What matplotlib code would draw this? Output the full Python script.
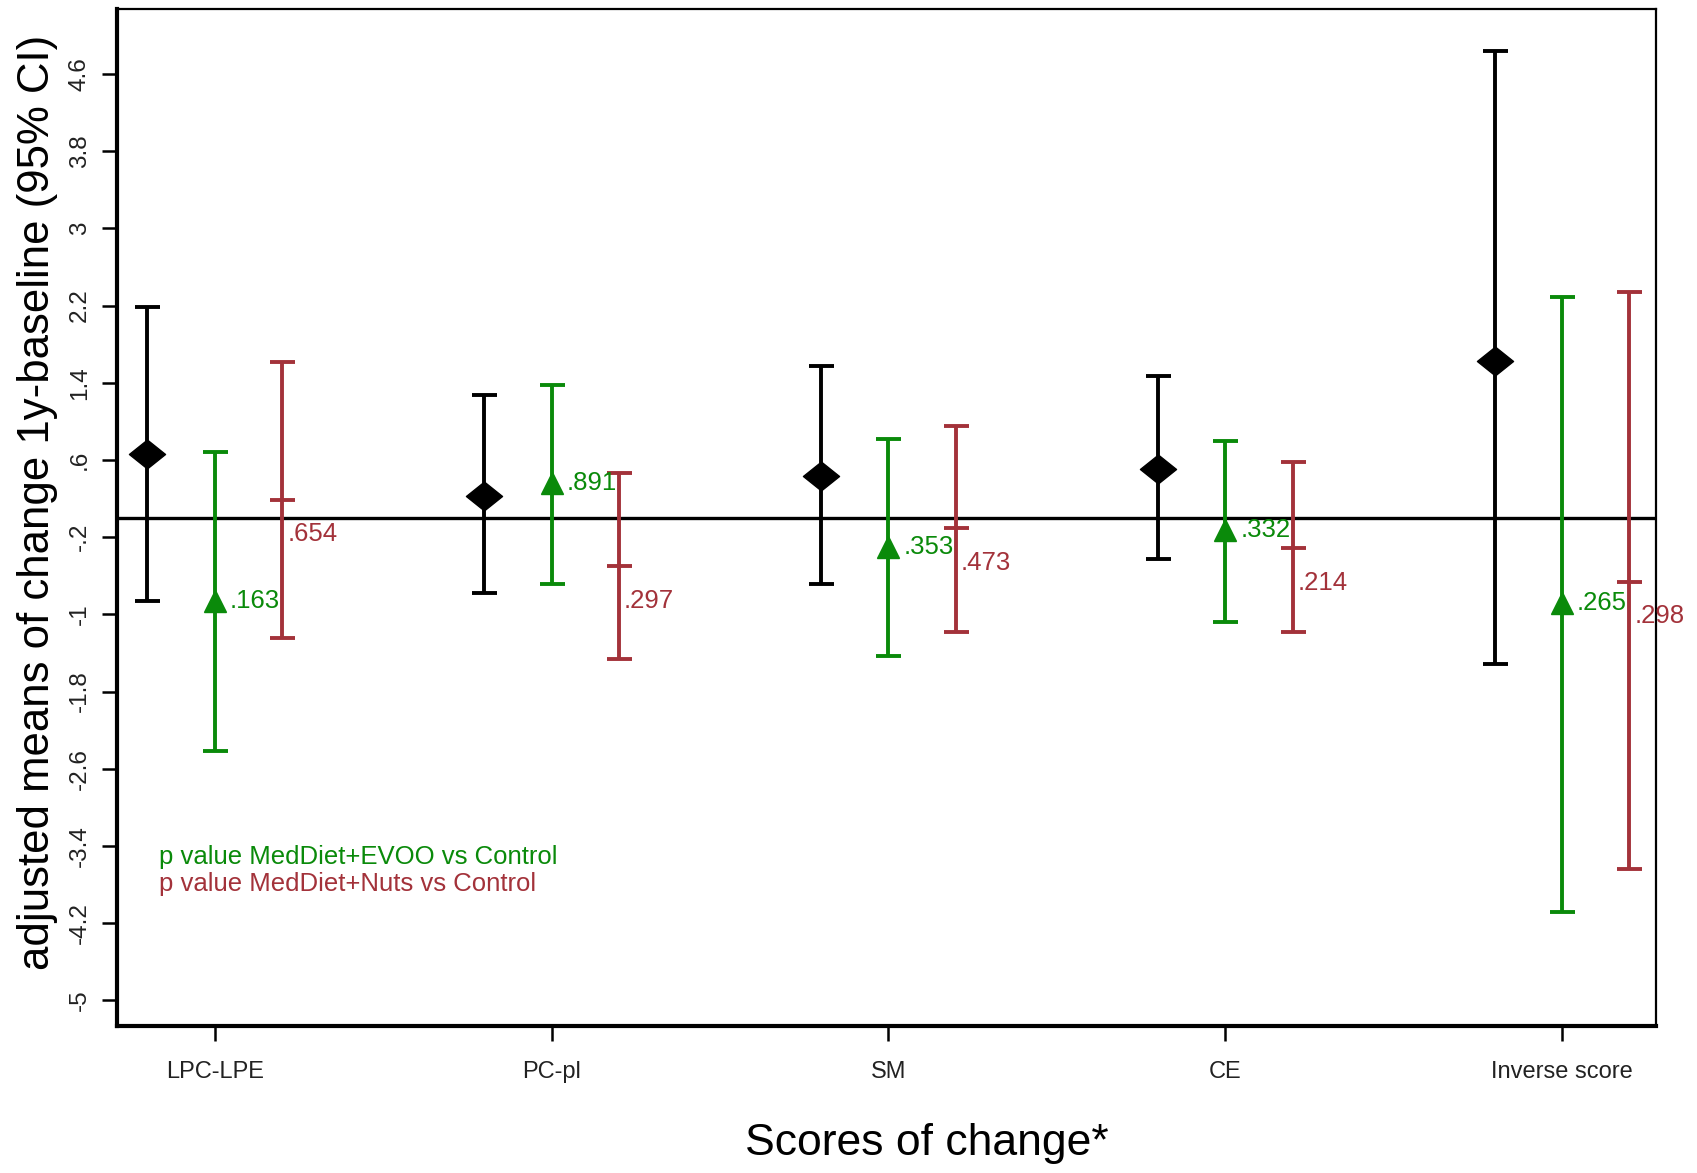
import matplotlib
matplotlib.use("Agg")
import matplotlib.pyplot as plt
import numpy as np
from matplotlib.path import Path

plt.rcParams['font.family'] = ['Liberation Sans', 'DejaVu Sans']

# scores and group estimates (adjusted mean change, 95% CI)
scores = ['LPC-LPE', 'PC-pl', 'SM', 'CE', 'Inverse score']

ctrl_mean = [0.66, 0.23, 0.43, 0.51, 1.63]
ctrl_lo = [-0.86, -0.78, -0.69, -0.43, -1.51]
ctrl_hi = [2.19, 1.27, 1.57, 1.47, 4.84]

evoo_mean = [-0.86, 0.36, -0.30, -0.13, -0.88]
evoo_lo = [-2.42, -0.69, -1.43, -1.08, -4.08]
evoo_hi = [0.68, 1.38, 0.82, 0.80, 2.29]

nuts_mean = [0.19, -0.50, -0.11, -0.31, -0.66]
nuts_lo = [-1.24, -1.46, -1.18, -1.18, -3.64]
nuts_hi = [1.62, 0.47, 0.95, 0.58, 2.34]

p_evoo = ['.163', '.891', '.353', '.332', '.265']
p_nuts = ['.654', '.297', '.473', '.214', '.298']

yticks = [4.6, 3.8, 3, 2.2, 1.4, 0.6, -0.2, -1, -1.8, -2.6, -3.4, -4.2, -5]
ytick_labels = ['4.6', '3.8', '3', '2.2', '1.4', '.6', '-.2', '-1', '-1.8', '-2.6', '-3.4', '-4.2', '-5']

green = '#0a8a0a'
red = '#a3323a'

fig = plt.figure(figsize=(16.97, 11.73), dpi=100)
ax = fig.add_axes([0.069, 0.125, 0.907, 0.867])

x = np.arange(1, len(scores) + 1)

# wide diamond marker
diamond = Path([(-1, 0), (0, 0.8), (1, 0), (0, -0.8), (-1, 0)],
               [Path.MOVETO, Path.LINETO, Path.LINETO, Path.LINETO, Path.CLOSEPOLY])

def err(m, lo, hi):
    m, lo, hi = np.array(m), np.array(lo), np.array(hi)
    return [m - lo, hi - m]

ax.axhline(0, color='black', lw=2.4, zorder=1)

ax.errorbar(x - 0.2, ctrl_mean, yerr=err(ctrl_mean, ctrl_lo, ctrl_hi), fmt='none',
            ecolor='black', elinewidth=2.8, capsize=9, capthick=2.8, zorder=2)
ax.plot(x - 0.2, ctrl_mean, linestyle='none', marker=diamond, markersize=26,
        color='black', zorder=3)

ax.errorbar(x, evoo_mean, yerr=err(evoo_mean, evoo_lo, evoo_hi), fmt='none',
            ecolor=green, elinewidth=2.8, capsize=9, capthick=2.8, zorder=2)
ax.plot(x, evoo_mean, linestyle='none', marker='^', markersize=16,
        color=green, zorder=3)

ax.errorbar(x + 0.2, nuts_mean, yerr=err(nuts_mean, nuts_lo, nuts_hi), fmt='none',
            ecolor=red, elinewidth=2.8, capsize=9, capthick=2.8, zorder=2)
ax.plot(x + 0.2, nuts_mean, linestyle='none', marker='_', markersize=18,
        markeredgewidth=2.8, color=red, zorder=3)

for i in range(len(scores)):
    ax.text(x[i] + 0.045, evoo_mean[i], p_evoo[i], color=green, fontsize=18.5,
            ha='left', va='center', zorder=4)
    ax.text(x[i] + 0.215, nuts_mean[i] - 0.36, p_nuts[i], color=red, fontsize=18.5,
            ha='left', va='center', zorder=4)

ax.text(0.835, -3.51, 'p value MedDiet+EVOO vs Control', color=green, fontsize=18.5,
        ha='left', va='center')
ax.text(0.835, -3.79, 'p value MedDiet+Nuts vs Control', color=red, fontsize=18.5,
        ha='left', va='center')

ax.set_xlim(0.71, 5.28)
ax.set_ylim(-5.27, 5.27)

ax.set_xticks(x)
ax.set_xticklabels(scores, fontsize=17, color='#222222')
ax.set_yticks(yticks)
ax.set_yticklabels(ytick_labels, fontsize=17.5, color='#222222', rotation=90, va='center')
ax.tick_params(axis='x', length=11, width=1.8, pad=14)
ax.tick_params(axis='y', length=11, width=1.8, pad=8)

for side in ['left', 'bottom']:
    ax.spines[side].set_linewidth(3)
for side in ['top', 'right']:
    ax.spines[side].set_linewidth(1.6)

fig.text(0.022, 0.572, 'adjusted means of change 1y-baseline (95% CI)', fontsize=31.5,
         rotation=90, ha='center', va='center')
fig.text(0.546, 0.025, 'Scores of change*', fontsize=32, ha='center', va='center')

fig.savefig('out.png', dpi=100)
